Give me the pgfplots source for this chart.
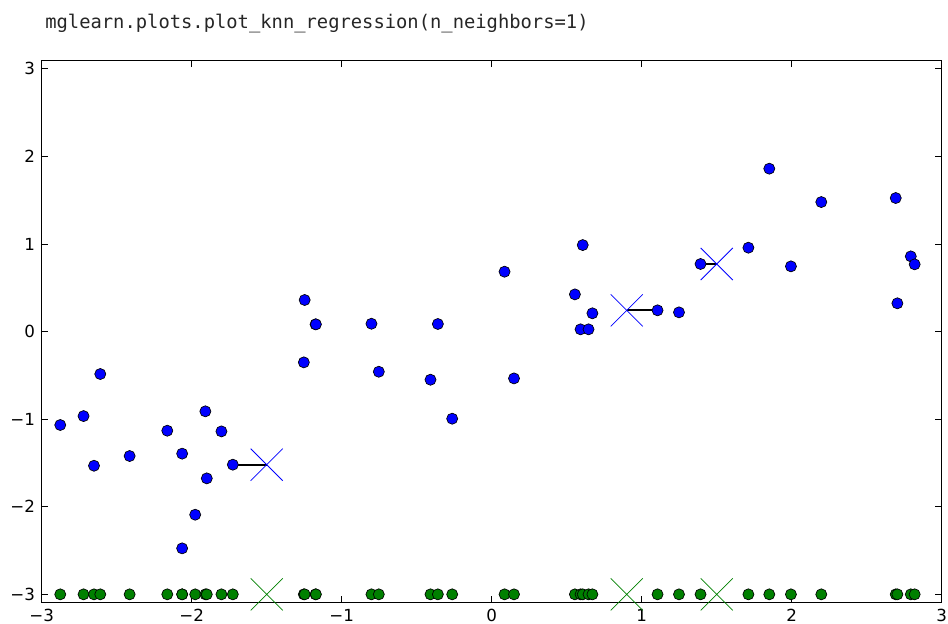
\documentclass[border=0pt]{standalone}
\usepackage{fontspec}
\usepackage{pgfplots}
\usepackage{pgfplotstable}
\pgfplotsset{compat=1.18}

\newfontfamily\tickfont{DejaVu Sans}
\newfontfamily\codefont{DejaVu Sans Mono}
\definecolor{mplblue}{rgb}{0,0,1}
\definecolor{mplgreen}{rgb}{0,0.5,0}

% training data of the wave set: feature x, target y, and the baseline row at -3
\pgfplotstableread{
x        y       base
-2.8765  -1.067  -3
-2.7213  -0.965  -3
-2.6515  -1.532  -3
-2.6097  -0.485  -3
-2.4140  -1.421  -3
-2.1630  -1.132  -3
-2.0639  -1.394  -3
-2.0640  -2.475  -3
-1.9769  -2.091  -3
-1.9091  -0.911  -3
-1.8996  -1.676  -3
-1.8020  -1.140  -3
-1.7260  -1.520  -3
-1.2526  -0.352  -3
-1.2471   0.360  -3
-1.1746   0.082  -3
-1.1723   0.082  -3
-0.8018   0.089  -3
-0.7528  -0.459  -3
-0.4083  -0.550  -3
-0.3591   0.086  -3
-0.2636  -0.995  -3
 0.0854   0.683  -3
 0.1485  -0.535  -3
 0.5545   0.424  -3
 0.5920   0.025  -3
 0.6067   0.987  -3
 0.6453   0.025  -3
 0.6711   0.208  -3
 1.1054   0.242  -3
 1.2484   0.219  -3
 1.3920   0.771  -3
 1.7111   0.957  -3
 1.8504   1.859  -3
 1.9947   0.744  -3
 2.1971   1.478  -3
 2.6933   1.524  -3
 2.7043   0.322  -3
 2.7938   0.858  -3
 2.8195   0.767  -3
}\trainpts

% test points and their 1-NN predictions
\pgfplotstableread{
x     pred    base
-1.5  -1.520  -3
 0.9   0.242  -3
 1.5   0.771  -3
}\testpts

\begin{document}
\begin{tikzpicture}
\path[use as bounding box] (-31.3bp,-16bp) rectangle (679.7bp,452bp);
\begin{axis}[
  name=main,
  scale only axis,
  width=675bp, height=406.7bp,
  xmin=-3, xmax=3, ymin=-3.095, ymax=3.095,
  xtick={-3,-2,-1,0,1,2,3},
  ytick={-3,-2,-1,0,1,2,3},
  xticklabels={−3,−2,−1,0,1,2,3},
  yticklabels={−3,−2,−1,0,1,2,3},
  tick align=inside,
  major tick length=5bp,
  tick style={black, line width=0.6bp},
  axis line style={black, line width=0.9bp},
  ticklabel style={font=\tickfont\fontsize{12.5bp}{15bp}\selectfont},
  xticklabel style={yshift=-1.5bp},
  yticklabel style={xshift=-1.5bp},
  clip=false,
]
% lines from each test point to its nearest neighbour
\addplot[black, line width=1.6bp] coordinates {(-1.5,-1.520) (-1.7260,-1.520)};
\addplot[black, line width=1.6bp] coordinates {(0.9,0.242) (1.1054,0.242)};
\addplot[black, line width=1.6bp] coordinates {(1.5,0.771) (1.3920,0.771)};
% training targets
\addplot[only marks, mark=*, mark size=4.15bp,
  mark options={fill=mplblue, draw=black, line width=0.5bp}]
  table[x=x, y=y] {\trainpts};
% training features on the baseline
\addplot[only marks, mark=*, mark size=4.15bp,
  mark options={fill=mplgreen, draw=black, line width=0.5bp}]
  table[x=x, y=base] {\trainpts};
% test features on the baseline
\addplot[only marks, mark=x, mark size=17bp,
  mark options={draw=mplgreen, line width=0.6bp}]
  table[x=x, y=base] {\testpts};
% predictions
\addplot[only marks, mark=x, mark size=17bp,
  mark options={draw=mplblue, line width=0.6bp}]
  table[x=x, y=pred] {\testpts};
\end{axis}
\node[anchor=base west, inner sep=0pt, text=black!85,
  font=\codefont\fontsize{14.1bp}{17bp}\selectfont]
  at ([xshift=2.5bp, yshift=24.2bp]main.north west)
  {mglearn.plots.plot\_knn\_regression(n\_neighbors=1)};
\end{tikzpicture}
\end{document}
